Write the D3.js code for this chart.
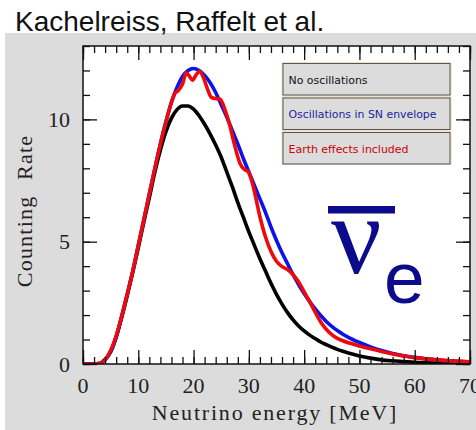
<!DOCTYPE html>
<html>
<head>
<meta charset="utf-8">
<script src="https://cdn.jsdelivr.net/npm/d3@7"></script>
<style>
  body { margin: 0; background: #fff; }
</style>
</head>
<body>
<div id="chart"></div>
<script>
// Energies (MeV) for the two smooth curves
const energyGrid = [0,1,2,3,4,5,6,7,8,9,10,11,12,13,14,15,16,17,18,19,20,21,22,23,24,25,26,27,28,29,30,
  31,32,33,34,35,36,37,38,39,40,41,42,43,44,45,46,47,48,50,52,54,56,58,60,62,65,70];

// No oscillations (black)
const rateNoOsc = [0,0,0,0.02,0.18,0.5,1.1,1.9,2.8,3.75,4.75,5.8,6.8,7.85,8.75,9.5,10.05,10.4,10.55,10.55,10.42,
  10.15,9.8,9.4,8.95,8.45,7.85,7.25,6.6,6.0,5.4,4.85,4.3,3.8,3.3,2.85,2.45,2.1,1.8,1.55,1.35,1.18,1.04,0.9,0.79,
  0.69,0.6,0.52,0.45,0.33,0.24,0.17,0.13,0.1,0.07,0.05,0.03,0.01];

// Oscillations in SN envelope (blue)
const rateEnvelope = [0,0,0,0.02,0.18,0.5,1.1,1.95,2.85,3.8,4.85,5.9,6.95,8.0,9.0,9.9,10.7,11.3,11.75,12.0,12.08,
  12.0,11.8,11.5,11.1,10.6,10.1,9.55,9.0,8.4,7.85,7.3,6.75,6.2,5.6,5.05,4.55,4.1,3.65,3.25,2.88,2.55,2.25,1.98,
  1.74,1.54,1.37,1.22,1.09,0.88,0.7,0.55,0.43,0.34,0.27,0.21,0.15,0.08];

// Earth effects included (red) - finer grid around the wiggles
const energyEarth = [0,1,2,3,4,5,6,7,8,9,10,11,12,13,14,15,16,16.6,17.3,18,18.7,19.3,19.8,20.4,21.1,21.8,22.5,
  23.2,24,24.8,25.7,26.5,27.2,28.4,29.2,29.9,30.8,32,33,34,35,36,37,38,39,40,41,42,43,44,45,46,47,48,50,52,54,
  56,58,60,62,65,70];
const rateEarth = [0,0,0,0.03,0.18,0.55,1.15,1.95,2.85,3.8,4.85,5.9,6.95,8.0,9.0,9.9,10.7,11.05,11.2,11.45,11.9,
  11.75,11.6,11.8,11.97,11.7,11.25,10.9,10.85,10.82,10.38,9.8,9.15,8.2,7.95,7.86,7.25,6.02,5.2,4.6,4.2,3.98,3.86,
  3.65,3.35,2.95,2.55,2.12,1.72,1.42,1.2,1.05,0.95,0.87,0.74,0.62,0.51,0.41,0.33,0.26,0.21,0.15,0.09];

const xTickValues = [0,10,20,30,40,50,60,70];
const yTickValues = [0,5,10];
const legendLabels = ["No oscillations", "Oscillations in SN envelope", "Earth effects included"];
const legendColors = ["#111111", "#1c1c9c", "#cc0000"];
const lineColors = ["#000000", "#0a14e6", "#ee0a0a"];

const width = 476, height = 430;
const plot = { left: 83, top: 46, right: 470, bottom: 364 };

const svg = d3.select("#chart").append("svg")
  .attr("width", width)
  .attr("height", height);

// grey page background
svg.append("rect")
  .attr("x", 5).attr("y", 33)
  .attr("width", width - 5).attr("height", height - 33)
  .attr("fill", "#dcdcdc");

// title
svg.append("text")
  .attr("x", 15).attr("y", 31)
  .attr("font-family", "Liberation Sans, Arial, sans-serif")
  .attr("font-size", 28)
  .attr("fill", "#111")
  .text("Kachelreiss, Raffelt et al.");

const x = d3.scaleLinear().domain([0, 70]).range([plot.left, plot.right]);
const y = d3.scaleLinear().domain([0, 13]).range([plot.bottom, plot.top]);

// plot area
svg.append("rect")
  .attr("x", plot.left).attr("y", plot.top)
  .attr("width", plot.right - plot.left).attr("height", plot.bottom - plot.top)
  .attr("fill", "#fff");

svg.append("clipPath").attr("id", "clip")
  .append("rect")
  .attr("x", plot.left).attr("y", plot.top - 2)
  .attr("width", plot.right - plot.left).attr("height", plot.bottom - plot.top + 2);

const line = d3.line()
  .x(d => x(d[0]))
  .y(d => y(d[1]))
  .curve(d3.curveMonotoneX);

const series = [
  d3.zip(energyGrid, rateNoOsc),
  d3.zip(energyGrid, rateEnvelope),
  d3.zip(energyEarth, rateEarth)
];

const curves = svg.append("g").attr("clip-path", "url(#clip)");
series.forEach((s, i) => {
  curves.append("path")
    .datum(s)
    .attr("fill", "none")
    .attr("stroke", lineColors[i])
    .attr("stroke-width", 3.6)
    .attr("stroke-linejoin", "round")
    .attr("d", line);
});

// ticks, all pointing inward
const xMinor = d3.range(0, 71, 2);
const yMinor = d3.range(0, 14, 1);

function drawAxis(axis, pos, values, size) {
  const g = svg.append("g").attr("transform", pos).call(axis.tickValues(values).tickSize(size).tickFormat(""));
  g.select(".domain").remove();
  g.selectAll(".tick line").attr("stroke", "#111").attr("stroke-width", 1.3);
  return g;
}

drawAxis(d3.axisBottom(x), `translate(0,${plot.bottom})`, xMinor, -7);
drawAxis(d3.axisBottom(x), `translate(0,${plot.bottom})`, xTickValues, -14);
drawAxis(d3.axisTop(x), `translate(0,${plot.top})`, xMinor, -7);
drawAxis(d3.axisTop(x), `translate(0,${plot.top})`, xTickValues, -14);
drawAxis(d3.axisLeft(y), `translate(${plot.left},0)`, yMinor, -7);
drawAxis(d3.axisLeft(y), `translate(${plot.left},0)`, yTickValues, -14);
drawAxis(d3.axisRight(y), `translate(${plot.right},0)`, yMinor, -7);
drawAxis(d3.axisRight(y), `translate(${plot.right},0)`, yTickValues, -14);

// frame
svg.append("rect")
  .attr("x", plot.left).attr("y", plot.top)
  .attr("width", plot.right - plot.left).attr("height", plot.bottom - plot.top)
  .attr("fill", "none")
  .attr("stroke", "#111")
  .attr("stroke-width", 1.5);

// tick labels
const serif = "Liberation Serif, Times New Roman, serif";
svg.append("g").selectAll("text")
  .data(xTickValues)
  .join("text")
  .attr("x", d => x(d))
  .attr("y", 393)
  .attr("text-anchor", "middle")
  .attr("font-family", serif)
  .attr("font-size", 22)
  .attr("fill", "#222")
  .text(d => d);

svg.append("g").selectAll("text")
  .data(yTickValues)
  .join("text")
  .attr("x", 70)
  .attr("y", d => y(d))
  .attr("dy", "0.35em")
  .attr("text-anchor", "end")
  .attr("font-family", serif)
  .attr("font-size", 22)
  .attr("fill", "#222")
  .text(d => d);

// axis titles
svg.append("text")
  .attr("x", 275).attr("y", 420)
  .attr("text-anchor", "middle")
  .attr("font-family", serif)
  .attr("font-size", 22)
  .attr("letter-spacing", "1.8px")
  .attr("fill", "#222")
  .text("Neutrino energy [MeV]");

svg.append("text")
  .attr("transform", "translate(32,211) rotate(-90)")
  .attr("text-anchor", "middle")
  .attr("font-family", serif)
  .attr("font-size", 22)
  .attr("letter-spacing", "1.2px")
  .attr("word-spacing", "9px")
  .attr("fill", "#222")
  .text("Counting Rate");

// legend boxes
const legend = svg.append("g");
legend.append("rect")
  .attr("x", 281.5).attr("y", 62)
  .attr("width", 170).attr("height", 103)
  .attr("fill", "#efe2c6");
legendLabels.forEach((label, i) => {
  const top = 63.5 + i * 34.5;
  legend.append("rect")
    .attr("x", 283).attr("y", top)
    .attr("width", 167).attr("height", 31.5)
    .attr("fill", "#dcdcdc")
    .attr("stroke", "#555")
    .attr("stroke-width", 1);
  legend.append("text")
    .attr("x", 288.5).attr("y", top + 20)
    .attr("font-family", "DejaVu Sans, sans-serif")
    .attr("font-size", 11)
    .attr("fill", legendColors[i])
    .attr("textLength", [79, 148, 120][i])
    .attr("lengthAdjust", "spacingAndGlyphs")
    .text(label);
});

// anti electron neutrino symbol
const nuColor = "#0b0b8c";
svg.append("rect")
  .attr("x", 328).attr("y", 206)
  .attr("width", 67).attr("height", 7.5)
  .attr("fill", nuColor);
svg.append("text")
  .attr("x", 331).attr("y", 273)
  .attr("font-family", serif)
  .attr("font-size", 112)
  .attr("fill", nuColor)
  .text("ν");
svg.append("text")
  .attr("x", 384).attr("y", 303)
  .attr("font-family", "Liberation Sans, Arial, sans-serif")
  .attr("font-size", 73)
  .attr("fill", nuColor)
  .text("e");
</script>
</body>
</html>
